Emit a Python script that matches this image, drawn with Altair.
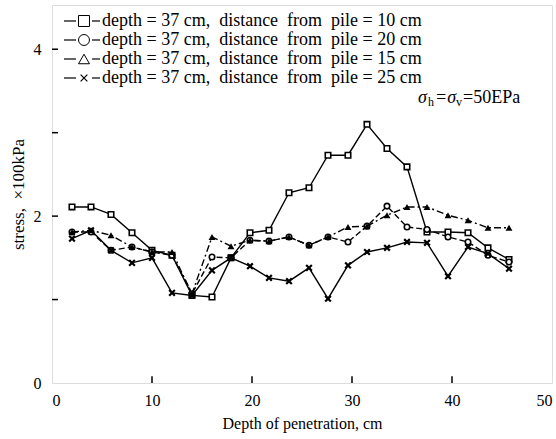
import altair as alt
import pandas as pd

# ---- data ----
depth = [2.0, 3.9, 5.9, 8.0, 10.0, 12.0, 14.0, 16.0, 17.9, 19.8, 21.7, 23.7,
         25.7, 27.6, 29.6, 31.5, 33.5, 35.5, 37.5, 39.6, 41.6, 43.6, 45.7]

stress_10 = [2.11, 2.11, 2.02, 1.80, 1.59, 1.53, 1.05, 1.03, 1.50, 1.80, 1.83, 2.28,
             2.34, 2.73, 2.73, 3.10, 2.81, 2.59, 1.81, 1.81, 1.80, 1.62, 1.48]
stress_20 = [1.81, 1.81, 1.59, 1.63, 1.57, 1.53, 1.07, 1.51, 1.50, 1.71, 1.70, 1.75,
             1.65, 1.75, 1.69, 1.88, 2.12, 1.87, 1.84, 1.75, 1.69, 1.53, 1.45]
stress_15 = [1.81, 1.83, 1.77, 1.63, 1.57, 1.57, 1.07, 1.75, 1.64, 1.71, 1.70, 1.75,
             1.65, 1.75, 1.87, 1.88, 2.01, 2.11, 2.11, 2.01, 1.95, 1.86, 1.86]
stress_25 = [1.73, 1.83, 1.59, 1.44, 1.50, 1.08, 1.05, 1.35, 1.50, 1.40, 1.26, 1.22,
             1.38, 1.01, 1.41, 1.57, 1.62, 1.69, 1.68, 1.28, 1.63, 1.55, 1.37]

NB = "\u00a0"
legend_labels = [
    f"depth{NB}={NB}37{NB}cm,{NB}{NB}distance{NB}{NB}from{NB}{NB}pile{NB}={NB}10{NB}cm",
    f"depth{NB}={NB}37{NB}cm,{NB}{NB}distance{NB}{NB}from{NB}{NB}pile{NB}={NB}20{NB}cm",
    f"depth{NB}={NB}37{NB}cm,{NB}{NB}distance{NB}{NB}from{NB}{NB}pile{NB}={NB}15{NB}cm",
    f"depth{NB}={NB}37{NB}cm,{NB}{NB}distance{NB}{NB}from{NB}{NB}pile{NB}={NB}25{NB}cm",
]
x_tick_labels = [0, 10, 20, 30, 40, 50]
y_tick_labels = [0, 2, 4]
x_minor = [10, 20, 30, 40]
y_minor = [1, 2, 3, 4]

FONT = "Liberation Serif"
XPATH = "M-1,-1L1,1M-1,1L1,-1"

series = [
    # values, shape, filled, dash
    (stress_10, "square", False, []),
    (stress_20, "circle", False, [6, 3]),
    (stress_15, "triangle-up", True, [7, 3, 2, 3]),
    (stress_25, XPATH, False, []),
]

xs = alt.Scale(domain=[0, 50], nice=False, zero=False)
ys = alt.Scale(domain=[0, 4.53], nice=False, zero=False)

x_axis = alt.Axis(values=x_tick_labels, format="d", title="Depth of penetration, cm",
                  grid=False, domain=False, ticks=False, labelFlush=True, labelFont=FONT,
                  labelFontSize=16, labelColor="black", labelPadding=9,
                  titleFont=FONT, titleFontSize=16, titleFontWeight="normal",
                  titleColor="black", titlePadding=7)
y_axis = alt.Axis(values=y_tick_labels, format="d", title=f"stress,{NB}{NB}×100kPa",
                  grid=False, domain=False, ticks=False, labelFlush=False, labelFont=FONT,
                  labelFontSize=16, labelColor="black", labelPadding=11,
                  titleFont=FONT, titleFontSize=17, titleFontWeight="normal",
                  titleColor="black", titlePadding=6)

layers = []

# axes carrier (invisible)
axis_df = pd.DataFrame({"depth": [0, 50], "stress": [0, 4.53]})
layers.append(
    alt.Chart(axis_df).mark_point(opacity=0).encode(
        x=alt.X("depth:Q", scale=xs, axis=x_axis),
        y=alt.Y("stress:Q", scale=ys, axis=y_axis),
    )
)

# inward minor ticks
xt = pd.DataFrame({"depth": x_minor, "y0": [0] * len(x_minor), "y1": [0.08] * len(x_minor)})
layers.append(
    alt.Chart(xt).mark_rule(color="black", strokeWidth=1.5).encode(
        x=alt.X("depth:Q", scale=xs), y=alt.Y("y0:Q", scale=ys), y2="y1:Q"
    )
)
yt = pd.DataFrame({"stress": y_minor, "x0": [0] * len(y_minor), "x1": [0.6] * len(y_minor)})
layers.append(
    alt.Chart(yt).mark_rule(color="black", strokeWidth=1.5).encode(
        y=alt.Y("stress:Q", scale=ys), x=alt.X("x0:Q", scale=xs), x2="x1:Q"
    )
)

for vals, shape, filled, dash in series:
    d = pd.DataFrame({"depth": depth, "stress": vals})
    line_kwargs = dict(color="black", strokeWidth=1.4)
    if dash:
        line_kwargs["strokeDash"] = dash
    layers.append(
        alt.Chart(d).mark_line(**line_kwargs).encode(
            x=alt.X("depth:Q", scale=xs), y=alt.Y("stress:Q", scale=ys)
        )
    )
    if shape == XPATH:
        pt = alt.Chart(d).mark_point(shape=shape, filled=False, color="black",
                                     strokeWidth=2.2, size=32, opacity=1)
    elif filled:
        pt = alt.Chart(d).mark_point(shape=shape, filled=True, color="black",
                                     size=48, opacity=1)
    else:
        pt = alt.Chart(d).mark_point(shape=shape, filled=True, fill="white",
                                     stroke="black", strokeWidth=1.6, size=30, opacity=1)
    layers.append(pt.encode(x=alt.X("depth:Q", scale=xs), y=alt.Y("stress:Q", scale=ys)))

# legend (drawn inside the plot, top-left)
legend_y = [16, 35, 54, 73]
one = pd.DataFrame({"k": [0]})
for i, (vals, shape, filled, dash) in enumerate(series):
    yy = legend_y[i]
    for xa, xb in [(12, 24), (40, 48)]:
        layers.append(
            alt.Chart(one).mark_rule(color="black", strokeWidth=1.2).encode(
                x=alt.value(xa), x2=alt.value(xb), y=alt.value(yy)
            )
        )
    if shape == XPATH:
        m = alt.Chart(one).mark_point(shape=shape, filled=False, color="black",
                                      strokeWidth=1.2, size=45, opacity=1)
    else:
        m = alt.Chart(one).mark_point(shape=shape, filled=False, color="black",
                                      strokeWidth=1.0, size=120, opacity=1)
    layers.append(m.encode(x=alt.value(32), y=alt.value(yy)))
    lab = pd.DataFrame({"label": [legend_labels[i]]})
    layers.append(
        alt.Chart(lab).mark_text(font=FONT, fontSize=18, align="left", baseline="middle",
                                 color="black").encode(
            x=alt.value(50), y=alt.value(yy), text="label:N"
        )
    )

# sigma annotation
sig_parts = [("σ", 366, 0, 18), ("h", 376, 4, 12), ("=σ", 383, 0, 18),
             ("v", 404, 4, 12), ("=50EPa", 411, 0, 18)]
for txt, px, dy, fs in sig_parts:
    layers.append(
        alt.Chart(pd.DataFrame({"t": [txt]})).mark_text(
            font=FONT, fontSize=fs, align="left", baseline="middle", color="black",
            fontStyle="italic" if "σ" in txt else "normal", dy=dy
        ).encode(x=alt.value(px), y=alt.value(93), text="t:N")
    )

chart = alt.layer(*layers).properties(
    width=500, height=378,
    padding={"left": 52, "top": 5, "right": 4, "bottom": 56},
    autosize="none",
).configure_view(stroke="black", strokeWidth=2).configure(background="white")

chart.save("out.html", embed_options={"renderer": "svg", "actions": False})
